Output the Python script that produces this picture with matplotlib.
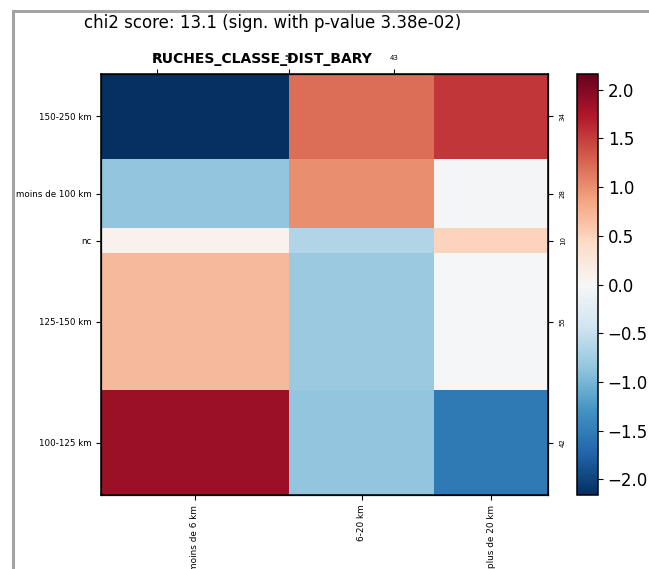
import matplotlib
matplotlib.use("Agg")
import matplotlib.pyplot as plt
import numpy as np
from matplotlib.patches import Rectangle

# -----------------------------------
# Data
# -----------------------------------

col_labels = ["moins de 6 km", "6-20 km", "plus de 20 km"]
col_counts = [71, 55, 43]

row_labels = ["150-250 km", "moins de 100 km", "nc", "125-150 km", "100-125 km"]
row_counts = [34, 28, 10, 55, 42]

# standardized residuals, one row per row label
residuals = [
    [-2.16, 1.20, 1.55],
    [-0.86, 1.00, -0.05],
    [0.10, -0.65, 0.50],
    [0.70, -0.80, -0.02],
    [1.86, -0.85, -1.55],
]

top_tick_pos = [0.125, 0.42, 0.655]

chi2_score = 13.1
p_value = 3.38e-02
var_name = "RUCHES_CLASSE_DIST_BARY"

# -----------------------------------
# Figure Setup
# -----------------------------------

W, H = 649, 569
fig = plt.figure(figsize=(W / 100, H / 100), dpi=100)

# grey frame of the original picture
fig.patches.append(Rectangle((13 / W, -0.1), 1.2, 1 - 11 / H + 0.1,
                             transform=fig.transFigure, fill=False,
                             edgecolor="#a3a3a3", linewidth=2.2))

ax = fig.add_axes([101 / W, 1 - 495 / H, 447 / W, 421 / H])
cax = fig.add_axes([577 / W, 1 - 495 / H, 21 / W, 421 / H])

vals = np.array(residuals)
vmax = np.abs(vals).max()

x_edges = np.concatenate([[0], np.cumsum(col_counts)]) / sum(col_counts)
y_edges = np.concatenate([[0], np.cumsum(row_counts)]) / sum(row_counts)

mesh = ax.pcolormesh(x_edges, y_edges, vals, cmap="RdBu_r",
                     vmin=-vmax, vmax=vmax)
ax.set_xlim(0, 1)
ax.set_ylim(1, 0)

x_centers = (x_edges[:-1] + x_edges[1:]) / 2
y_centers = (y_edges[:-1] + y_edges[1:]) / 2

ax.set_xticks(x_centers)
ax.set_xticklabels(col_labels, rotation=90, fontsize=6.4)
ax.set_yticks(y_centers)
ax.set_yticklabels(row_labels, fontsize=6.3)

for s in ax.spines.values():
    s.set_linewidth(1.1)

# right axis: row counts
axr = ax.twinx()
axr.set_ylim(1, 0)
axr.set_yticks(y_centers)
axr.set_yticklabels([str(c) for c in row_counts], rotation=90,
                    fontsize=5, va="center")
axr.tick_params(axis="y", pad=5)

# top axis: column counts
axt = ax.twiny()
axt.set_xlim(0, 1)
axt.set_xticks(top_tick_pos)
axt.set_xticklabels([str(c) for c in col_counts], fontsize=5)
axt.tick_params(axis="x", pad=6)

ax.set_title(var_name, fontsize=10, fontweight="bold",
             x=(262 - 101) / 447, y=1.0, pad=8)
ax.title.set_zorder(10)

# -----------------------------------
# Colorbar
# -----------------------------------

cb = fig.colorbar(mesh, cax=cax)
cb.set_ticks(np.arange(-2, 2.01, 0.5))
cb.ax.tick_params(labelsize=12)
cb.outline.set_linewidth(1.1)

fig.text(273 / W, 1 - 23 / H,
         f"chi2 score: {chi2_score} (sign. with p-value {p_value:.2e})",
         ha="center", va="center", fontsize=12)

fig.savefig("out.png", dpi=100)
